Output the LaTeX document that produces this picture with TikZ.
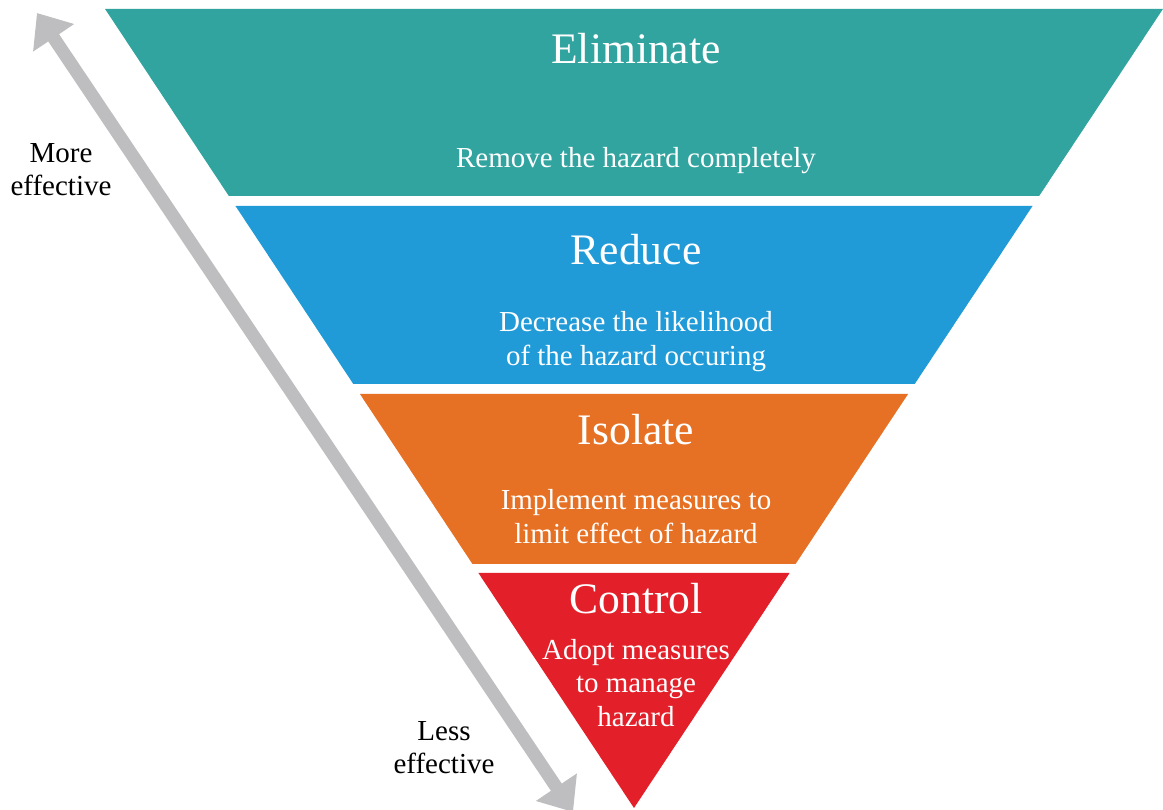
\documentclass[tikz,border=0pt]{standalone}
\usepackage{fontspec}
\setmainfont{Liberation Serif}
\usetikzlibrary{arrows.meta}
\definecolor{elimcol}{RGB}{50,164,160}
\definecolor{reducecol}{RGB}{32,155,215}
\definecolor{isolcol}{RGB}{230,113,36}
\definecolor{ctrlcol}{RGB}{227,32,42}
\definecolor{arrowgray}{RGB}{190,190,192}
\tikzset{>=latex}
\tikzset{
  title/.style={text=white, font=\fontsize{24.8}{30}\selectfont, anchor=base},
  desc/.style={text=white, font=\fontsize{16.5}{19.3}\selectfont, align=center},
  side/.style={text=black, font=\fontsize{16.5}{18.7}\selectfont, align=center},
  bigarrow/.style={arrowgray, line width=7.4pt,
    {Triangle[width=27pt,length=17pt]}-{Triangle[width=27pt,length=17pt]}}
}

\begin{document}
\begin{tikzpicture}[x=0.02cm, y=-0.02cm]
      \useasboundingbox (0,0) rectangle (1163,810);
      % the funnel, apex at (634,808)
      \foreach \ya/\yb/\col in {9/196/elimcol, 206/384/reducecol, 394/564/isolcol, 573/808/ctrlcol}
        \fill[\col] ({634-0.662*(808-\ya)},\ya) -- ({634+0.662*(808-\ya)},\ya)
          -- ({634+0.662*(808-\yb)},\yb) -- ({634-0.662*(808-\yb)},\yb) -- cycle;
      \coordinate (more) at (37,13);
      \coordinate (less) at (573,812);
      \draw[bigarrow] (less) -- (more);
      \node[title] (elim) at (636,64) {Eliminate};
      \node[desc, anchor=base] (elimtxt) at (636,168) {Remove the hazard completely};
      \node[title] (reduce) at (636,265) {Reduce};
      \node[desc] (reducetxt) at (636,342) {Decrease the likelihood\\of the hazard occuring};
      \node[title] (isol) at (636,445) {Isolate};
      \node[desc] (isoltxt) at (636,517) {Implement measures to\\limit effect of hazard};
      \node[title] (ctrl) at (636,613) {Control};
      \node[desc] (ctrltxt) at (636,683) {Adopt measures\\to manage\\hazard};
      \node[side] (moretxt) at (61,170) {More\\effective};
      \node[side] (lesstxt) at (444,748) {Less\\effective};
\end{tikzpicture}
\end{document}
